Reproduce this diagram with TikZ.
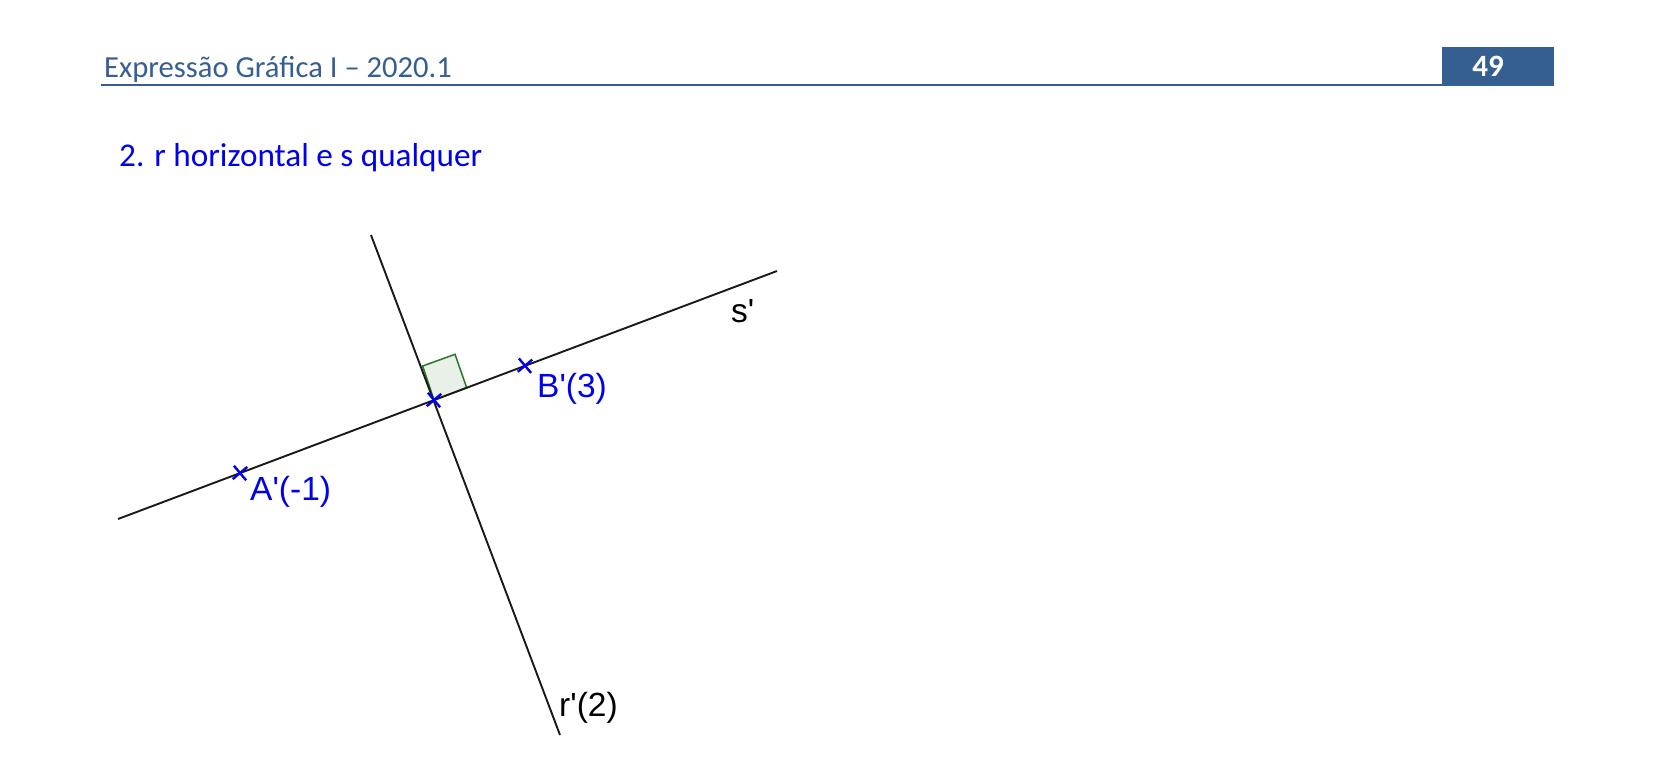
\documentclass[tikz,border=0pt]{standalone}
\usepackage{fontspec}
\usepackage{xcolor}
\usepackage{tikz}
\usetikzlibrary{shapes.misc}
\setmainfont{Carlito}
\newfontfamily\rotulofont{Liberation Sans}
\definecolor{AzulCabecalho}{RGB}{54,95,145}
\definecolor{AzulPonto}{RGB}{0,0,235}
\definecolor{VerdeAngulo}{RGB}{40,120,40}
\definecolor{FundoAngulo}{RGB}{232,240,232}
\tikzset{
  cabecalho/.style={anchor=base west,inner sep=0pt,text=AzulCabecalho,font=\fontsize{30.6}{36}\selectfont},
  rotulo/.style={anchor=base west,inner sep=0pt,font=\rotulofont\fontsize{33.5}{40}\selectfont},
  marca/.style={cross out,draw=AzulPonto,line width=2.4pt,inner sep=0pt,minimum size=11pt,rotate=-5},
  reta/.style={line width=1.9pt,black!90}
}

\begin{document}
\begin{tikzpicture}[x=1pt,y=-1pt]
  \useasboundingbox (0,0) rectangle (1654,756);
  % cabecalho da pagina
  \coordinate (H1) at (101,85);
  \coordinate (H2) at (1554,85);
  \node[cabecalho] (cab) at (104,77) {Expressão Gráfica I – 2020.1};
  \fill[AzulCabecalho] (1442,47) rectangle (1554,85);
  \node[anchor=base,inner sep=0pt,text=white,font=\fontsize{31}{36}\selectfont\bfseries] (pag) at (1488,76) {49};
  \draw[AzulCabecalho,line width=1.5pt] (H1) -- (H2);
  \node[anchor=base west,inner sep=0pt,text=AzulPonto,font=\fontsize{33.2}{40}\selectfont] (tit) at (119,166.5) {2. r horizontal e s qualquer};
  % retas
  \coordinate (I) at (434,400);
  \coordinate (S1) at (118,519);
  \coordinate (S2) at (777,271);
  \coordinate (R1) at (371,235);
  \coordinate (R2) at (560,735);
  % angulo reto
  \filldraw[draw=VerdeAngulo,fill=FundoAngulo,line width=1.5pt] (I) -- (422.7,366) -- (455,354.3) -- (466.7,387.7) -- cycle;
  \draw[reta] (S1) -- (S2);
  \draw[reta] (R1) -- (R2);
  % pontos
  \node[marca] (A) at (240,473) {};
  \node[marca] (B) at (525,365.7) {};
  \node[marca] (P) at (I) {};
  \node[rotulo,text=AzulPonto] (lA) at (250,500) {A'(-1)};
  \node[rotulo,text=AzulPonto] (lB) at (537,397) {B'(3)};
  \node[rotulo] (ls) at (731,322.5) {s'};
  \node[rotulo] (lr) at (559,716) {r'(2)};
\end{tikzpicture}
\end{document}
